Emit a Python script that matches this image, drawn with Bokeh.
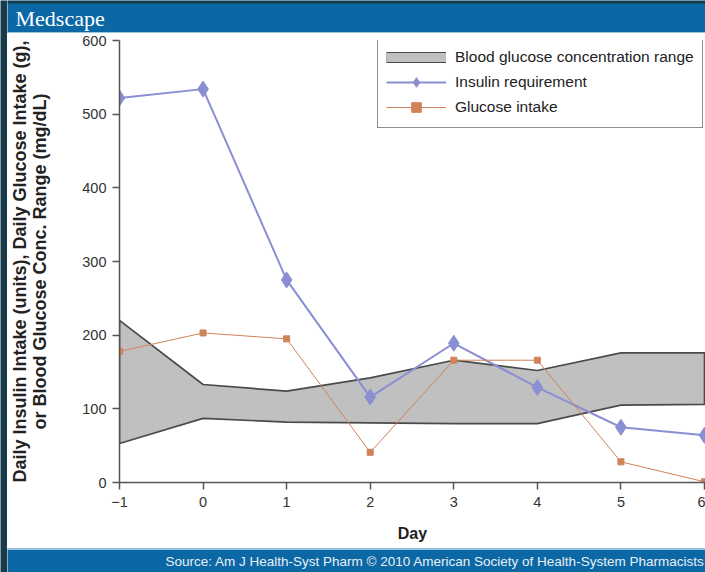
from bokeh.plotting import figure
from bokeh.layouts import row, column
from bokeh.models import (ColumnDataSource, Legend, LegendItem, BoxAnnotation, Label,
                          FixedTicker, Range1d)
from bokeh.embed import file_html
from bokeh.resources import INLINE

# ---- data ----
days = [-1, 0, 1, 2, 3, 4, 5, 6]
insulin = [522, 534, 275, 116, 189, 129, 75, 64]
glucose = [178, 203, 195, 41, 166, 166, 28, 1]
bg_upper = [220, 133, 124, 142, 166, 152, 176, 176]
bg_lower = [53, 87, 82, 81, 80, 80, 105, 106]
x_ticks = [-1, 0, 1, 2, 3, 4, 5, 6]
y_ticks = [0, 100, 200, 300, 400, 500, 600]
x_tick_labels = {-1: "\u22121"}
header_text = "Medscape"
footer_text = "Source: Am J Health-Syst Pharm \u00a9 2010 American Society of Health-System Pharmacists"

DARK = "#173b48"
BLUE = "#0c68a4"
LIGHT = "#cde6f0"
FONT = "Liberation Sans"
MAIN_W, MAIN_H = 698, 515
HEAD_H, FOOT_H = 33, 24


def bare(w, h, xr, yr, bg):
    f = figure(width=w, height=h, output_backend="svg", toolbar_location=None,
               x_range=Range1d(*xr), y_range=Range1d(*yr),
               x_axis_type=None, y_axis_type=None, min_border=0,
               background_fill_color=bg, border_fill_color=bg, frame_align=False)
    f.title.visible = False
    f.outline_line_color = None
    f.xgrid.visible = False
    f.ygrid.visible = False
    return f


# left dark strip
strip = bare(7, HEAD_H + MAIN_H + FOOT_H, (0, 7), (0, 10), DARK)

# header
head = bare(MAIN_W, HEAD_H, (0, MAIN_W), (0, HEAD_H), BLUE)
head.add_layout(BoxAnnotation(bottom=30, top=HEAD_H, fill_color=DARK, fill_alpha=1, line_color=None))
head.add_layout(BoxAnnotation(bottom=0, top=1.2, fill_color=LIGHT, fill_alpha=1, line_color=None))
head.add_layout(Label(x=8, y=15, text=header_text, text_font="Liberation Serif",
                      text_font_size="22px", text_color="white",
                      text_baseline="middle", text_align="left"))

# footer
foot = bare(MAIN_W, FOOT_H, (0, MAIN_W), (0, FOOT_H), BLUE)
foot.add_layout(BoxAnnotation(bottom=FOOT_H - 1.2, top=FOOT_H, fill_color=LIGHT, fill_alpha=1, line_color=None))
foot.add_layout(Label(x=158, y=11, text=footer_text, text_font=FONT,
                      text_font_size="13.5px", text_color="#e8eff6",
                      text_baseline="middle", text_align="left"))

# main chart
p = figure(width=MAIN_W, height=MAIN_H, output_backend="svg", toolbar_location=None,
           x_range=Range1d(-1, 6.012), y_range=Range1d(0, 600),
           min_border_left=112, min_border_right=0, min_border_top=7,
           min_border_bottom=66, background_fill_color="white",
           border_fill_color="white", frame_align=False)
p.title.visible = False
p.outline_line_color = None
p.xgrid.visible = False
p.ygrid.visible = False

band_x = days + days[::-1]
band_y = bg_upper + bg_lower[::-1]
band = p.patch(band_x, band_y, fill_color="#c0c0c0", line_color="#4a4a4a", line_width=1.7)

src = ColumnDataSource(dict(d=days, ins=insulin, glu=glucose))
ins_line = p.line("d", "ins", source=src, line_color="#8a8ed2", line_width=2)
ins_mark = p.scatter("d", "ins", source=src, marker="diamond", size=16,
                     fill_color="#8a8ed2", line_color="#8a8ed2")
glu_line = p.line("d", "glu", source=src, line_color="#d08258", line_width=1)
glu_mark = p.scatter("d", "glu", source=src, marker="square", size=6,
                     fill_color="#d08258", line_color="#d08258")

# legend proxies for the band swatch (no visible data)
nan = float("nan")
proxy_src = ColumnDataSource(dict(x=[nan], y=[nan]))
prox_a = p.line("x", "y", source=proxy_src, line_color="#4a4a4a", line_width=11)
prox_b = p.line("x", "y", source=proxy_src, line_color="#c0c0c0", line_width=9)

legend = Legend(items=[
    LegendItem(label="Blood glucose concentration range", renderers=[prox_a, prox_b]),
    LegendItem(label="Insulin requirement", renderers=[ins_line, ins_mark]),
    LegendItem(label="Glucose intake", renderers=[glu_line, glu_mark]),
], location=(258, 354), glyph_width=60, glyph_height=24, label_height=24,
   spacing=1, padding=8, label_standoff=9, label_text_font=FONT,
   label_text_font_size="15.5px", label_text_color="#222222",
   border_line_color="#222222", border_line_width=1,
   background_fill_color="white", background_fill_alpha=1.0, margin=0)
p.add_layout(legend, "center")

for ax in (p.xaxis[0], p.yaxis[0]):
    ax.axis_line_color = "#555555"
    ax.axis_line_width = 1.5
    ax.major_tick_line_color = "#555555"
    ax.major_tick_line_width = 1.5
    ax.major_tick_in = 0
    ax.major_tick_out = 7
    ax.minor_tick_line_color = None
    ax.major_label_text_font = FONT
    ax.major_label_text_font_size = "14.5px"
    ax.major_label_text_color = "#333333"
    ax.axis_label_text_font = FONT
    ax.axis_label_text_font_style = "bold"
    ax.axis_label_text_color = "#222222"

p.xaxis.ticker = FixedTicker(ticks=x_ticks)
p.xaxis.major_label_overrides = x_tick_labels
p.xaxis.major_label_standoff = 7
p.xaxis.axis_label = "Day"
p.xaxis.axis_label_text_font_size = "16px"
p.xaxis.axis_label_standoff = 15

p.yaxis.ticker = FixedTicker(ticks=y_ticks)
p.yaxis.major_label_standoff = 6
p.yaxis.axis_label = ("Daily Insulin Intake (units), Daily Glucose Intake (g),\n"
                      "or Blood Glucose Conc. Range (mg/dL)")
p.yaxis.axis_label_text_font_size = "18px"
p.yaxis.axis_label_text_line_height = 1.0
p.yaxis.axis_label_standoff = 29

layout = row(strip, column(head, p, foot, spacing=0), spacing=0)
open("out.html", "w").write(file_html(layout, INLINE))
